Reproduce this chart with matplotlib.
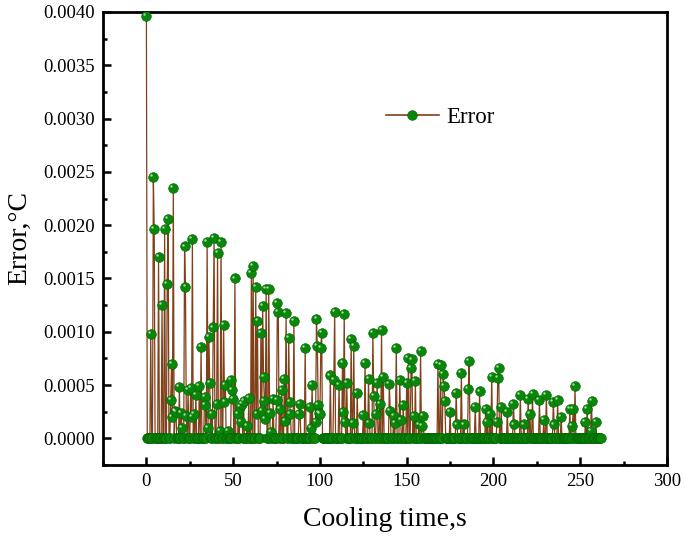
import numpy as np
import matplotlib
matplotlib.use('Agg')
import matplotlib.pyplot as plt
from matplotlib.ticker import MultipleLocator, FormatStrFormatter
from matplotlib.lines import Line2D
import matplotlib.transforms as mtransforms

plt.rcParams['font.family'] = ['Liberation Serif', 'DejaVu Serif']

# sampling grid of the record (s); most samples sit on the zero baseline
t_start, t_end, t_step = 0.0, 262.0, 0.5

# non-zero samples: time (s), error (deg C)
spike_t = [0.0, 2.5, 4.0, 4.5, 7.0, 9.0, 10.5, 12.0, 12.5, 14.0, 14.5, 15.0, 15.5,
           16.5, 17.0, 19.0, 20.0, 20.5, 22.0, 22.5, 23.0, 24.0, 25.5, 26.0, 26.5,
           27.5, 28.5, 30.5, 31.5, 33.5, 34.0, 35.0, 35.5, 36.0, 36.5, 37.5, 38.5,
           39.0, 40.5, 41.0, 42.5, 43.0, 44.5, 45.0, 45.5, 47.0, 49.0, 49.5, 50.0,
           51.0, 53.0, 54.0, 54.5, 55.0, 56.0, 58.0, 59.0, 60.5, 61.5, 63.0, 63.5,
           64.0, 66.0, 66.5, 67.0, 67.5, 68.0, 68.5, 69.0, 70.5, 71.0, 72.0, 73.0,
           75.0, 75.5, 76.0, 77.0, 78.0, 79.5, 80.0, 80.5, 82.0, 82.5, 83.0, 85.0,
           88.0, 88.5, 91.5, 94.5, 95.0, 95.5, 97.5, 98.0, 98.5, 99.0, 99.5, 100.0,
           100.5, 101.0, 106.0, 108.0, 108.5, 111.0, 113.0, 113.5, 114.0, 114.5,
           115.5, 118.0, 119.0, 119.5, 121.5, 125.0, 126.0, 128.0, 128.5, 130.5,
           131.0, 132.5, 133.0, 134.5, 135.5, 136.5, 140.0, 140.5, 142.5, 143.5,
           144.0, 146.0, 146.5, 148.0, 150.0, 151.0, 152.5, 153.0, 154.0, 155.0,
           157.0, 158.0, 159.0, 159.5, 168.0, 169.5, 171.0, 171.5, 172.0, 175.0,
           178.5, 179.0, 181.5, 183.0, 185.5, 186.0, 189.5, 192.0, 195.5, 196.5,
           198.0, 199.0, 202.0, 202.5, 203.0, 204.5, 208.0, 211.5, 212.0, 215.5,
           217.5, 220.0, 221.0, 222.5, 226.5, 229.0, 230.5, 234.5, 235.0, 237.0,
           239.0, 244.0, 245.5, 246.0, 247.0, 253.0, 254.0, 256.0, 256.5, 259.0]
spike_v = [0.00396, 0.00098, 0.00245, 0.00196, 0.00170, 0.00125, 0.00196, 0.00145,
           0.00206, 0.00036, 0.00070, 0.00020, 0.00235, 0.00026, 0.00025, 0.00048,
           0.00024, 0.00010, 0.00180, 0.00142, 0.00021, 0.00045, 0.00047, 0.00020,
           0.00187, 0.00023, 0.00041, 0.00049, 0.00086, 0.00039, 0.00031, 0.00184,
           0.00010, 0.00095, 0.00052, 0.00023, 0.00104, 0.00188, 0.00032, 0.00174,
           0.00007, 0.00184, 0.00106, 0.00034, 0.00050, 0.00007, 0.00055, 0.00045,
           0.00037, 0.00150, 0.00023, 0.00029, 0.00015, 0.00032, 0.00035, 0.00012,
           0.00038, 0.00155, 0.00162, 0.00142, 0.00023, 0.00110, 0.00099, 0.00026,
           0.00124, 0.00058, 0.00035, 0.00018, 0.00140, 0.00140, 0.00024, 0.00006,
           0.00037, 0.00036, 0.00127, 0.00119, 0.00028, 0.00045, 0.00056, 0.00016,
           0.00118, 0.00094, 0.00034, 0.00023, 0.00110, 0.00023, 0.00032, 0.00085,
           0.00029, 0.00010, 0.00050, 0.00015, 0.00112, 0.00087, 0.00031, 0.00024,
           0.00023, 0.00085, 0.00099, 0.00059, 0.00055, 0.00119, 0.00050, 0.00071,
           0.00025, 0.00117, 0.00015, 0.00052, 0.00093, 0.00014, 0.00087, 0.00043,
           0.00022, 0.00071, 0.00056, 0.00014, 0.00099, 0.00040, 0.00023, 0.00052,
           0.00032, 0.00102, 0.00058, 0.00051, 0.00026, 0.00021, 0.00014, 0.00085,
           0.00055, 0.00017, 0.00031, 0.00052, 0.00075, 0.00066, 0.00074, 0.00021,
           0.00054, 0.00013, 0.00082, 0.00012, 0.00021, 0.00070, 0.00069, 0.00060,
           0.00049, 0.00035, 0.00025, 0.00043, 0.00013, 0.00061, 0.00013, 0.00046,
           0.00073, 0.00029, 0.00044, 0.00028, 0.00015, 0.00023, 0.00058, 0.00015,
           0.00057, 0.00066, 0.00029, 0.00025, 0.00032, 0.00013, 0.00041, 0.00013,
           0.00037, 0.00023, 0.00042, 0.00036, 0.00017, 0.00041, 0.00034, 0.00013,
           0.00036, 0.00020, 0.00028, 0.00012, 0.00028, 0.00049, 0.00015, 0.00028,
           0.00007, 0.00035, 0.00015]

time = np.arange(t_start, t_end + t_step / 2, t_step)
error = np.zeros_like(time)
idx = np.rint((np.array(spike_t) - t_start) / t_step).astype(int)
error[idx] = spike_v

LINE_C = '#80401a'
GREEN = '#0a870a'

fig = plt.figure(figsize=(6.85, 5.38), dpi=100)
ax = fig.add_axes([0.1504, 0.1357, 0.8233, 0.842])

ax.plot(time, error, color=LINE_C, lw=0.9, zorder=2)
ax.plot(time, error, ls='none', marker='o', ms=7.0, mfc=GREEN,
        mec='#006400', mew=0.4, zorder=3)
# small glossy highlight on the raised spheres (on the baseline they merge into a band)
hl = mtransforms.offset_copy(ax.transData, fig=fig, x=-1.4, y=1.4, units='points')
up = error > 0
ax.plot(time[up], error[up], ls='none', marker='o', ms=1.7, mfc='#d4eed4',
        mec='none', alpha=0.8, transform=hl, zorder=4)

ax.set_xlim(-25, 300)
ax.set_ylim(-0.00025, 0.0040)
ax.xaxis.set_major_locator(MultipleLocator(50))
ax.xaxis.set_minor_locator(MultipleLocator(25))
ax.yaxis.set_major_locator(MultipleLocator(0.0005))
ax.yaxis.set_minor_locator(MultipleLocator(0.00025))
ax.yaxis.set_major_formatter(FormatStrFormatter('%.4f'))

for s in ax.spines.values():
    s.set_linewidth(2.0)
ax.tick_params(which='both', direction='in', top=False, right=False,
               labelsize=13.5, width=1.8)
ax.tick_params(which='major', length=5.5, pad=6)
ax.tick_params(which='minor', length=3)

ax.set_xlabel('Cooling time,s', fontsize=20, labelpad=12)
ax.set_ylabel('Error,°C', fontsize=20, labelpad=8)

handle = Line2D([], [], color=LINE_C, lw=1.2, marker='o', ms=7, mfc=GREEN,
                mec='#006400', mew=0.4)
ax.legend([handle], ['Error'], loc='center left', bbox_to_anchor=(0.465, 0.768),
          frameon=False, fontsize=16.5, handlelength=2.3, handletextpad=0.35)

fig.savefig('out.png', dpi=100)
